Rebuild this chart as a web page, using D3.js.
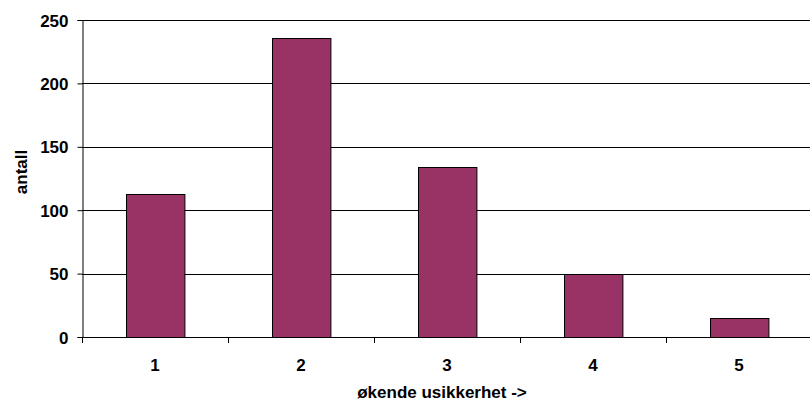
<!DOCTYPE html>
<html>
<head>
<meta charset="utf-8">
<script src="https://cdn.jsdelivr.net/npm/d3@7"></script>
<style>
  body { margin: 0; background: #fff; }
  text { font-family: "Liberation Sans", Arial, sans-serif; font-weight: bold; fill: #000; }
</style>
</head>
<body>
<div id="viz"></div>
<script>
const categories = ['1', '2', '3', '4', '5'];
const counts = [113, 236, 134, 50, 15];
const yTicks = [0, 50, 100, 150, 200, 250];

const width = 810, height = 403;
const margin = { left: 82, right: -2, top: 20, bottom: 66 };
const fs = 17;

const svg = d3.select('#viz').append('svg')
  .attr('width', width)
  .attr('height', height);

const x = d3.scaleBand()
  .domain(categories)
  .range([margin.left, width - margin.right])
  .paddingInner(0.6)
  .paddingOuter(0.3);

const y = d3.scaleLinear()
  .domain([0, 250])
  .range([height - margin.bottom, margin.top]);

// gridlines
svg.append('g')
  .selectAll('line')
  .data(yTicks.slice(1))
  .join('line')
  .attr('x1', margin.left).attr('x2', width)
  .attr('y1', d => Math.round(y(d)) + 0.5).attr('y2', d => Math.round(y(d)) + 0.5)
  .attr('stroke', '#000')
  .attr('stroke-width', 1);

// bars
svg.append('g')
  .selectAll('rect')
  .data(counts)
  .join('rect')
  .attr('x', (d, i) => Math.round(x(categories[i])) + 0.5)
  .attr('y', d => Math.round(y(d)) + 0.5)
  .attr('width', x.bandwidth())
  .attr('height', d => Math.round(y(0)) - Math.round(y(d)))
  .attr('fill', '#993366')
  .attr('stroke', '#000')
  .attr('stroke-width', 1);

// y axis
const yAxis = svg.append('g')
  .attr('transform', `translate(${margin.left + 0.5},0)`)
  .call(d3.axisLeft(y).tickValues(yTicks).tickSize(5).tickPadding(9));
yAxis.select('.domain').attr('stroke', '#000');
yAxis.selectAll('.tick line').attr('stroke', '#000');
yAxis.selectAll('text').attr('font-size', fs).attr('dy', '0.36em');

// x axis
const step = x.step();
const bounds = d3.range(categories.length + 1).map(i => margin.left + i * step);
const xg = svg.append('g');
xg.append('line')
  .attr('x1', margin.left).attr('x2', width)
  .attr('y1', Math.round(y(0)) + 0.5).attr('y2', Math.round(y(0)) + 0.5)
  .attr('stroke', '#000');
xg.selectAll('line.tk')
  .data(bounds)
  .join('line')
  .attr('class', 'tk')
  .attr('x1', d => Math.round(d) + 0.5).attr('x2', d => Math.round(d) + 0.5)
  .attr('y1', Math.round(y(0))).attr('y2', Math.round(y(0)) + 6)
  .attr('stroke', '#000');
xg.selectAll('text')
  .data(categories)
  .join('text')
  .attr('x', d => x(d) + x.bandwidth() / 2)
  .attr('y', 371)
  .attr('text-anchor', 'middle')
  .attr('font-size', fs)
  .text(d => d);

// axis titles
svg.append('text')
  .attr('x', 442)
  .attr('y', 398)
  .attr('text-anchor', 'middle')
  .attr('font-size', fs)
  .text('økende usikkerhet ->');

svg.append('text')
  .attr('transform', 'translate(27,172) rotate(-90)')
  .attr('text-anchor', 'middle')
  .attr('font-size', fs)
  .text('antall');
</script>
</body>
</html>
